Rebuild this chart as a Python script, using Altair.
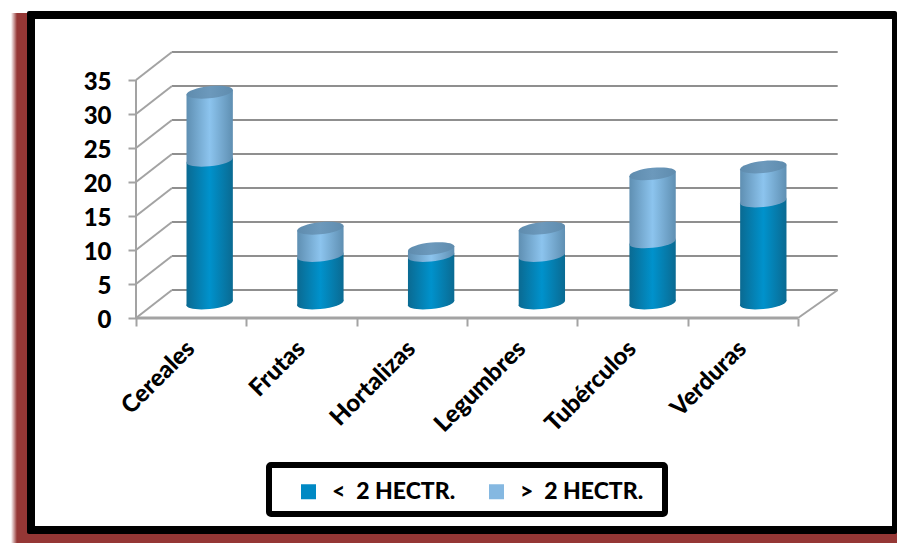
import altair as alt
import pandas as pd

categories = ["Cereales", "Frutas", "Hortalizas", "Legumbres", "Tubérculos", "Verduras"]
menos_2 = [21, 7, 7, 7, 9, 15]
mas_2 = [10, 4, 1, 4, 10, 5]
y_ticks = [0, 5, 10, 15, 20, 25, 30, 35]
series_names = ["<\u00a0\u00a02 HECTR.", ">\u00a0\u00a02 HECTR."]
series_colors = ["#0089c4", "#85b8e1"]

W, H, M = 889, 535, 8
X0, XU = 136.0, 110.33
Y0, YU = 318.0, 6.8
DX0, DX1, DV = 0.326, 0.36, 4.118   # depth of the 3-D box, in axis units
BASE = 2.2                # cylinders stand half way into the floor
OFF = 0.166
STEP = 1.0036             # the cylinders stand on the slightly wider mid-depth floor
HALF = 0.21
TILT = 0.34               # rise of a cylinder's rim from centre to edge, in value units
FONT = "Lato"

xs = alt.Scale(domain=[(M - X0) / XU, (M + W - X0) / XU], nice=False, zero=False)
ys = alt.Scale(domain=[(Y0 - M - H) / YU, (Y0 - M) / YU], nice=False, zero=False)


def cap_path(b, k):
    c = 0.5523
    pts = [(-1, 0), (-1, -c), (-c, -1), (0, -1), (c, -1), (1, -c), (1, 0),
           (1, c), (c, 1), (0, 1), (-c, 1), (-1, c), (-1, 0)]
    t = [(x, b * y - k * x) for x, y in pts]
    s = f"M {t[0][0]:.4f} {t[0][1]:.4f} "
    for i in range(1, 13, 3):
        s += "C " + " ".join(f"{p[0]:.4f} {p[1]:.4f}" for p in t[i:i + 3]) + " "
    return s + "Z"


CAP = cap_path(0.26, TILT * YU / (HALF * XU))
CAP_SIZE = (2 * HALF * XU) ** 2


def hgrad(edge, mid):
    return alt.Gradient(
        gradient="linear", x1=0, x2=1, y1=0, y2=0,
        stops=[alt.GradientStop(offset=0, color=edge),
               alt.GradientStop(offset=0.5, color=mid),
               alt.GradientStop(offset=1, color=edge)])


DARK = hgrad("#0a6a92", "#0092cc")
LIGHT = hgrad("#5f8fb2", "#8cc4ee")
TOP = hgrad("#5f8cae", "#6c99bc")

bars = pd.DataFrame({
    "cat": categories,
    "pos": [(i + 0.5) * STEP + OFF for i in range(len(categories))],
    "lab": [i + 0.5 for i in range(len(categories))],
    "labv": [-4.0] * len(categories),
    "base": [BASE] * len(categories),
    "dark": [BASE + v for v in menos_2],
    "top": [BASE + a + b for a, b in zip(menos_2, mas_2)],
})

# two-point rows per cylinder: the rims are slanted, so each body is an area
rows = []
for i, name in enumerate(categories):
    for side_sign in (-1, 1):
        rows.append({
            "cat": name,
            "bx": float(bars["pos"][i] + side_sign * HALF),
            "b0": float(BASE + side_sign * TILT),
            "b1": float(bars["dark"][i] + side_sign * TILT),
            "b2": float(bars["top"][i] + side_sign * TILT),
        })
bodies = pd.DataFrame(rows)

one = pd.DataFrame({"a": [0]})


def box(x1, x2, y1, y2, **kw):
    return alt.Chart(one).mark_rect(**kw).encode(
        x=alt.value(x1 - M), x2=alt.value(x2 - M),
        y=alt.value(y1 - M), y2=alt.value(y2 - M))


fade = alt.Gradient(gradient="linear", x1=0, x2=1, y1=0, y2=0,
                    stops=[alt.GradientStop(offset=0, color="#ffffff"),
                           alt.GradientStop(offset=1, color="#953735")])
band = box(17, 31, 13, 543, fill="#953735")
band_fade = box(11, 17, 13, 543, fill=fade)
band_bottom = box(17, 897, 528, 543, fill="#953735")
frame = box(27, 897, 11, 534, fill="#000000", cornerRadius=2)
inner = box(35, 892, 19, 526, fill="#ffffff")
legend_box = box(269, 665, 465, 514, fill="#ffffff", stroke="#000000", strokeWidth=6, cornerRadius=2)

GRID = "#8f8f8f"
FRONT = "#a3a3a3"
walls = pd.DataFrame({"v": y_ticks})
walls["bv"] = walls["v"] + DV
walls["x1"] = DX0
walls["x2"] = 6 + DX1
walls["x0"] = 0.0

grid = alt.Chart(walls).mark_rule(color=GRID, strokeWidth=2).encode(
    x=alt.X("x1:Q", scale=xs, axis=alt.Axis(
        orient="bottom", offset=Y0 - (M + H), values=list(range(7)), labels=False, title=None,
        grid=False, domain=False, tickSize=8, tickColor=FRONT, tickWidth=2, zindex=1)),
    x2="x2:Q",
    y=alt.Y("bv:Q", scale=ys, axis=alt.Axis(
        orient="left", offset=-(X0 - M), values=y_ticks, title=None, grid=False, domain=False,
        tickSize=8, tickColor=FRONT, tickWidth=2, labelPadding=17, labelFont=FONT,
        labelFontSize=24, labelFontWeight=900, labelColor="#000000", labelOffset=2, zindex=1)),
)
diag = alt.Chart(walls).mark_rule(color=FRONT, strokeWidth=2).encode(
    x=alt.X("x0:Q", scale=xs), x2="x1:Q", y=alt.Y("v:Q", scale=ys), y2="bv:Q")
side = alt.Chart(pd.DataFrame({"x": [6.0], "xb": [6 + DX1], "v": [0.0], "vb": [DV]})).mark_rule(
    color=FRONT, strokeWidth=2).encode(
    x=alt.X("x:Q", scale=xs), x2="xb:Q", y=alt.Y("v:Q", scale=ys), y2="vb:Q")
front_y = alt.Chart(pd.DataFrame({"x": [0.0], "a": [0.0], "b": [35.0]})).mark_rule(
    color=FRONT, strokeWidth=2).encode(
    x=alt.X("x:Q", scale=xs), y=alt.Y("a:Q", scale=ys), y2="b:Q")
front_x = alt.Chart(pd.DataFrame({"a": [0.0], "b": [6.0], "v": [0.0]})).mark_rule(
    color=FRONT, strokeWidth=3).encode(
    x=alt.X("a:Q", scale=xs), x2="b:Q", y=alt.Y("v:Q", scale=ys))


def cap(field, fill):
    return alt.Chart(bars).mark_point(
        shape=CAP, size=CAP_SIZE, filled=True, fill=fill, opacity=1, strokeWidth=0
    ).encode(x=alt.X("pos:Q", scale=xs), y=alt.Y(f"{field}:Q", scale=ys))


def body(y1, y2, fill):
    return alt.Chart(bodies).mark_area(fill=fill).encode(
        x=alt.X("bx:Q", scale=xs),
        y=alt.Y(f"{y2}:Q", scale=ys), y2=f"{y1}:Q",
        detail="cat:N")


cat_labels = alt.Chart(bars).mark_text(
    angle=315, align="right", baseline="middle", font=FONT, fontSize=24,
    fontWeight=900, color="#000000"
).encode(x=alt.X("lab:Q", scale=xs), y=alt.Y("labv:Q", scale=ys), text="cat:N")

legend_df = pd.DataFrame({"s": series_names, "x": [0.0, 0.0], "y": [0.0, 0.0]})
legend_layer = alt.Chart(legend_df).mark_square(size=0, opacity=1).encode(
    x=alt.X("x:Q", scale=xs), y=alt.Y("y:Q", scale=ys),
    color=alt.Color("s:N", scale=alt.Scale(domain=series_names, range=series_colors),
                    legend=alt.Legend(
                        orient="none", legendX=297 - M, legendY=480 - M, direction="horizontal",
                        columns=2, columnPadding=29, title=None, symbolType="square",
                        symbolSize=225, symbolStrokeWidth=0, labelFont=FONT, labelFontSize=23,
                        labelFontWeight=900, labelColor="#000000", labelOffset=12,
                        labelLimit=300, padding=0)))

chart = alt.layer(
    band, band_fade, band_bottom, frame, inner, grid, diag, side, front_y, front_x,
    cap("base", DARK), body("b0", "b1", DARK),
    cap("dark", LIGHT), body("b1", "b2", LIGHT), cap("top", TOP),
    cat_labels, legend_box, legend_layer,
).properties(
    width=W, height=H, padding=0, background="#ffffff",
    autosize=alt.AutoSizeParams(type="none"),
).configure_view(stroke=None)

chart.save("out.html", embed_options={"renderer": "svg", "actions": False})
